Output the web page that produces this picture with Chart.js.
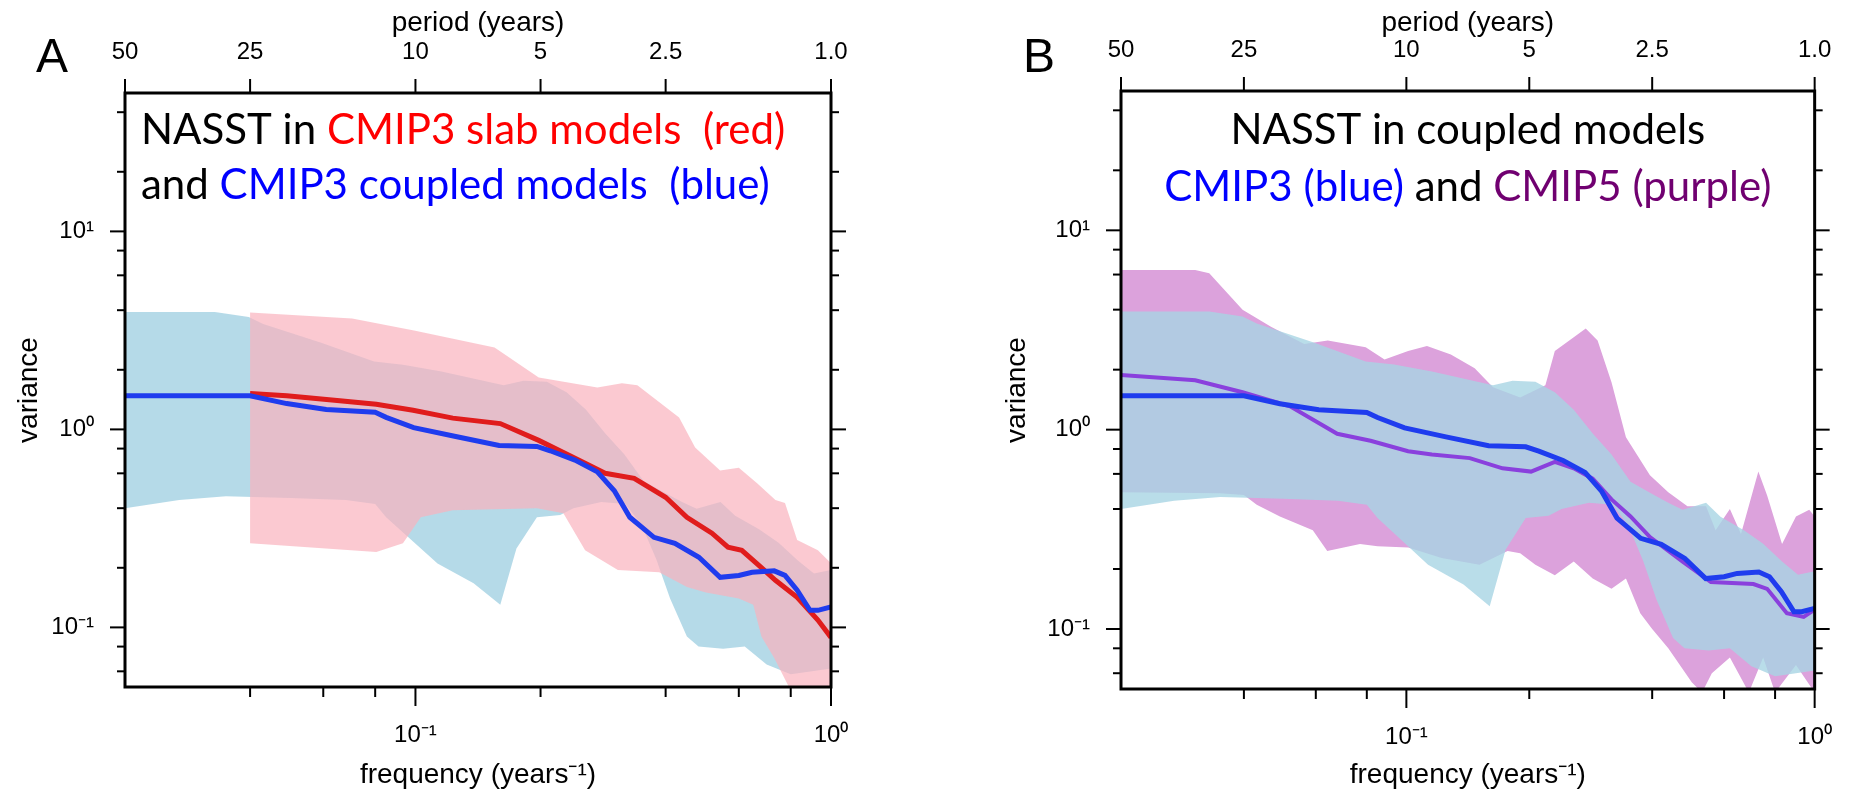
<!DOCTYPE html>
<html>
<head>
<meta charset="utf-8">
<script src="https://cdn.jsdelivr.net/npm/chart.js@4.4.1/dist/chart.umd.min.js"></script>
<style>
  html, body { margin: 0; padding: 0; background: #fff; }
  #wrap { position: relative; width: 1866px; height: 793px; overflow: hidden; background: #fff; }
  canvas { position: absolute; top: 0; }
  #panelA { left: 0; }
  #panelB { left: 933px; }
</style>
</head>
<body>
<div id="wrap">
  <canvas id="panelA" width="933" height="793"></canvas>
  <canvas id="panelB" width="933" height="793"></canvas>
</div>
<script>
// axes
const freqMin = 0.02, freqMax = 1.0;
const varMin = 0.05, varMax = 50;
const periodTickFreq = [0.02, 0.04, 0.1, 0.2, 0.4, 1.0];
const periodTickLabels = ["50", "25", "10", "5", "2.5", "1.0"];
const freqMajor = [0.1, 1.0];
const freqMajorLabels = ["10⁻¹", "10⁰"];
const freqMinor = [0.04, 0.06, 0.08, 0.2, 0.4, 0.6, 0.8];
const varMajor = [0.1, 1, 10];
const varMajorLabels = ["10⁻¹", "10⁰", "10¹"];
const varMinor = [0.06, 0.08, 0.2, 0.4, 0.6, 0.8, 2, 4, 6, 8, 20, 40];

// CMIP3 coupled models (blue) - mean and range
const coupledMeanFreq = [0.02, 0.04, 0.049, 0.061, 0.08, 0.085, 0.099, 0.125, 0.159, 0.196, 0.211, 0.242, 0.274, 0.301, 0.328, 0.375, 0.421, 0.481, 0.541, 0.60, 0.646, 0.73, 0.775, 0.829, 0.89, 0.93, 1.0];
const coupledMeanVar = [1.48, 1.48, 1.35, 1.26, 1.22, 1.15, 1.02, 0.92, 0.83, 0.82, 0.78, 0.70, 0.61, 0.49, 0.36, 0.285, 0.266, 0.226, 0.179, 0.183, 0.19, 0.193, 0.183, 0.154, 0.122, 0.122, 0.127];
const coupledUpperFreq = [0.02, 0.0329, 0.0397, 0.043, 0.0593, 0.0795, 0.0933, 0.1155, 0.163, 0.182, 0.207, 0.231, 0.257, 0.286, 0.318, 0.354, 0.395, 0.438, 0.475, 0.542, 0.588, 0.671, 0.748, 0.832, 0.91, 1.0];
const coupledUpperVar = [3.92, 3.92, 3.70, 3.41, 2.74, 2.20, 2.12, 1.96, 1.67, 1.76, 1.74, 1.54, 1.26, 0.956, 0.75, 0.548, 0.483, 0.43, 0.397, 0.43, 0.366, 0.313, 0.268, 0.218, 0.187, 0.195];
const coupledLowerFreq = [0.02, 0.027, 0.035, 0.05, 0.068, 0.08, 0.085, 0.099, 0.113, 0.138, 0.16, 0.175, 0.196, 0.223, 0.24, 0.28, 0.32, 0.35, 0.38, 0.41, 0.45, 0.48, 0.55, 0.62, 0.7, 0.8, 0.9, 1.0];
const coupledLowerVar = [0.40, 0.44, 0.46, 0.45, 0.44, 0.42, 0.36, 0.27, 0.21, 0.167, 0.13, 0.25, 0.36, 0.37, 0.40, 0.43, 0.42, 0.33, 0.22, 0.14, 0.09, 0.08, 0.078, 0.08, 0.065, 0.058, 0.06, 0.062];

// CMIP3 slab models (red) - mean and range
const slabMeanFreq = [0.04, 0.049, 0.0648, 0.0805, 0.0987, 0.123, 0.160, 0.198, 0.256, 0.286, 0.336, 0.40, 0.45, 0.517, 0.565, 0.61, 0.679, 0.735, 0.829, 0.93, 1.0];
const slabMeanVar = [1.52, 1.48, 1.40, 1.34, 1.25, 1.14, 1.07, 0.88, 0.674, 0.60, 0.566, 0.454, 0.36, 0.299, 0.254, 0.245, 0.201, 0.173, 0.142, 0.109, 0.089];
const slabUpperFreq = [0.04, 0.0704, 0.0992, 0.155, 0.198, 0.274, 0.314, 0.342, 0.431, 0.471, 0.541, 0.60, 0.664, 0.735, 0.775, 0.829, 0.93, 1.0];
const slabUpperVar = [3.89, 3.63, 3.16, 2.59, 1.83, 1.63, 1.71, 1.67, 1.15, 0.81, 0.62, 0.64, 0.534, 0.44, 0.425, 0.276, 0.245, 0.211];
const slabLowerFreq = [0.04, 0.0805, 0.0933, 0.103, 0.123, 0.196, 0.227, 0.256, 0.307, 0.386, 0.45, 0.5, 0.6, 0.65, 0.68, 0.73, 0.8, 1.0];
const slabLowerVar = [0.266, 0.24, 0.266, 0.36, 0.39, 0.40, 0.377, 0.245, 0.195, 0.19, 0.16, 0.15, 0.14, 0.13, 0.09, 0.07, 0.048, 0.048];

// CMIP5 coupled models (purple) - mean and range
const cmip5MeanFreq = [0.02, 0.0304, 0.0397, 0.0519, 0.0677, 0.0817, 0.101, 0.1155, 0.143, 0.172, 0.202, 0.231, 0.257, 0.286, 0.318, 0.354, 0.395, 0.475, 0.557, 0.708, 0.765, 0.855, 0.94, 1.0];
const cmip5MeanVar = [1.88, 1.77, 1.54, 1.31, 0.953, 0.88, 0.78, 0.75, 0.72, 0.64, 0.616, 0.69, 0.64, 0.568, 0.447, 0.367, 0.289, 0.218, 0.172, 0.168, 0.159, 0.12, 0.115, 0.125];
const cmip5UpperFreq = [0.02, 0.0304, 0.0329, 0.0397, 0.0466, 0.0562, 0.0642, 0.0795, 0.0884, 0.101, 0.1123, 0.1285, 0.147, 0.163, 0.19, 0.219, 0.231, 0.257, 0.275, 0.294, 0.318, 0.345, 0.395, 0.438, 0.488, 0.542, 0.572, 0.62, 0.66, 0.728, 0.765, 0.832, 0.90, 0.97, 1.0];
const cmip5UpperVar = [6.33, 6.33, 6.09, 4.0, 3.28, 2.69, 2.80, 2.59, 2.25, 2.48, 2.63, 2.38, 2.03, 1.63, 1.45, 1.67, 2.48, 2.91, 3.22, 2.80, 1.73, 0.917, 0.59, 0.485, 0.413, 0.413, 0.313, 0.40, 0.30, 0.616, 0.467, 0.267, 0.367, 0.397, 0.367];
const cmip5LowerFreq = [0.02, 0.035, 0.040, 0.043, 0.049, 0.059, 0.064, 0.077, 0.085, 0.101, 0.122, 0.151, 0.177, 0.19, 0.207, 0.231, 0.257, 0.286, 0.318, 0.345, 0.374, 0.40, 0.438, 0.50, 0.53, 0.56, 0.62, 0.69, 0.748, 0.80, 0.90, 1.0];
const cmip5LowerVar = [0.485, 0.48, 0.47, 0.42, 0.367, 0.313, 0.246, 0.267, 0.26, 0.256, 0.227, 0.21, 0.246, 0.24, 0.21, 0.186, 0.218, 0.179, 0.159, 0.179, 0.12, 0.10, 0.08, 0.054, 0.048, 0.06, 0.072, 0.048, 0.072, 0.048, 0.066, 0.048];

const AXIS_FONT = '"Liberation Sans", Arial, sans-serif';
const NOTE_FONT = '42px Lato, "Open Sans", sans-serif';

function points(freq, vals) {
    return freq.map((f, i) => ({ x: f, y: vals[i] }));
}

// upper edge left to right, then lower edge back, closed as one shape
function bandShape(upF, upV, loF, loV) {
    return points(upF, upV).concat(points(loF, loV).reverse());
}

function lineSet(data, color, width, order) {
    return { data, borderColor: color, borderWidth: width, fill: false, order, pointRadius: 0, tension: 0 };
}

function bandSet(data, color, order) {
    return { data, borderColor: "transparent", borderWidth: 0, backgroundColor: color, fill: "shape", order, pointRadius: 0, tension: 0 };
}

// frame and tick marks
const axisMarks = {
    id: "axisMarks",
    afterDraw(chart) {
        const { ctx, chartArea: a, scales } = chart;
        ctx.save();
        ctx.strokeStyle = "#000";
        ctx.lineWidth = 2;
        const seg = (x1, y1, x2, y2) => {
            ctx.beginPath();
            ctx.moveTo(x1, y1);
            ctx.lineTo(x2, y2);
            ctx.stroke();
        };
        freqMajor.forEach(v => {
            const x = scales.x.getPixelForValue(v);
            seg(x, a.bottom, x, a.bottom + 19);
        });
        freqMinor.forEach(v => {
            const x = scales.x.getPixelForValue(v);
            seg(x, a.bottom, x, a.bottom + 10);
        });
        periodTickFreq.forEach(v => {
            const x = scales.x2.getPixelForValue(v);
            seg(x, a.top, x, a.top - 14);
        });
        varMajor.forEach(v => {
            const y = scales.y.getPixelForValue(v);
            seg(a.left - 15, y, a.left, y);
            seg(a.right, y, a.right + 15, y);
        });
        varMinor.forEach(v => {
            const y = scales.y.getPixelForValue(v);
            seg(a.left - 8, y, a.left, y);
            seg(a.right, y, a.right + 8, y);
        });
        ctx.lineWidth = 3;
        ctx.strokeRect(a.left, a.top, a.right - a.left, a.bottom - a.top);
        ctx.restore();
    }
};

// panel letter and coloured annotation inside the plot
const notes = {
    id: "notes",
    afterDraw(chart, args, opts) {
        const ctx = chart.ctx;
        const a = chart.chartArea;
        ctx.save();
        ctx.textBaseline = "alphabetic";
        ctx.textAlign = "left";
        ctx.font = "48px " + AXIS_FONT;
        ctx.fillStyle = "#000";
        ctx.fillText(opts.letter, opts.letterX, 72);
        ctx.font = NOTE_FONT;
        opts.lines.forEach(line => {
            const total = line.parts.reduce((w, p) => w + ctx.measureText(p[0]).width, 0);
            let x = line.align === "center" ? (a.left + a.right) / 2 - total / 2 : line.x;
            line.parts.forEach(([text, color]) => {
                ctx.fillStyle = color;
                ctx.fillText(text, x, line.y);
                x += ctx.measureText(text).width;
            });
        });
        ctx.restore();
    }
};

function makePanel(id, g, datasets, noteOpts) {
    const canvas = document.getElementById(id);
    const W = canvas.width, H = canvas.height;
    const tickFont = { family: AXIS_FONT, size: 24 };
    const titleFont = { family: AXIS_FONT, size: 28 };
    const hidden = { display: false, drawTicks: false };

    return new Chart(canvas, {
        type: "line",
        data: { datasets },
        options: {
            responsive: false,
            animation: false,
            devicePixelRatio: 1,
            layout: { padding: 0 },
            plugins: {
                legend: { display: false },
                tooltip: { enabled: false },
                notes: noteOpts
            },
            scales: {
                x: {
                    type: "logarithmic",
                    position: "bottom",
                    min: freqMin,
                    max: freqMax,
                    afterBuildTicks: s => { s.ticks = freqMajor.map(v => ({ value: v })); },
                    afterFit: s => { s.height = H - g.bottom; },
                    grid: hidden,
                    border: { display: false },
                    ticks: { autoSkip: false, maxRotation: 0, padding: 34, color: "#000", font: tickFont,
                        callback: (v, i) => freqMajorLabels[i] },
                    title: { display: true, text: "frequency (years⁻¹)", color: "#000", font: titleFont,
                        padding: { top: 0, bottom: 1 } }
                },
                x2: {
                    type: "logarithmic",
                    position: "top",
                    min: freqMin,
                    max: freqMax,
                    afterBuildTicks: s => { s.ticks = periodTickFreq.map(v => ({ value: v })); },
                    afterFit: s => { s.height = g.top; },
                    grid: hidden,
                    border: { display: false },
                    ticks: { autoSkip: false, maxRotation: 0, padding: 26, color: "#000", font: tickFont,
                        callback: (v, i) => periodTickLabels[i] },
                    title: { display: true, text: "period (years)", color: "#000", font: titleFont,
                        padding: { top: 6, bottom: 0 } }
                },
                y: {
                    type: "logarithmic",
                    position: "left",
                    min: varMin,
                    max: varMax,
                    afterBuildTicks: s => { s.ticks = varMajor.map(v => ({ value: v })); },
                    afterFit: s => { s.width = g.left; },
                    grid: hidden,
                    border: { display: false },
                    ticks: { autoSkip: false, padding: 31, color: "#000", font: tickFont,
                        callback: (v, i) => varMajorLabels[i] },
                    title: { display: true, text: "variance", color: "#000", font: titleFont,
                        padding: { top: g.yTitlePad, bottom: 0 } }
                },
                y2: {
                    type: "logarithmic",
                    position: "right",
                    min: varMin,
                    max: varMax,
                    afterFit: s => { s.width = W - g.right; },
                    grid: hidden,
                    border: { display: false },
                    ticks: { display: false }
                }
            }
        },
        plugins: [axisMarks, notes]
    });
}

const coupledMean = points(coupledMeanFreq, coupledMeanVar);
const coupledBand = bandShape(coupledUpperFreq, coupledUpperVar, coupledLowerFreq, coupledLowerVar);

makePanel("panelA",
    { left: 125, right: 831, top: 93, bottom: 687, yTitlePad: 12 },
    [
        lineSet(coupledMean, "#1f3cee", 5, 0),
        lineSet(points(slabMeanFreq, slabMeanVar), "#e01c1c", 5, 1),
        bandSet(bandShape(slabUpperFreq, slabUpperVar, slabLowerFreq, slabLowerVar), "rgba(250,178,190,0.7)", 2),
        bandSet(coupledBand, "rgba(168,212,228,0.85)", 3)
    ],
    {
        letter: "A", letterX: 36,
        lines: [
            { x: 141, y: 144, parts: [["NASST in ", "#000"], ["CMIP3 slab models  (red)", "#ff0000"]] },
            { x: 141, y: 199, parts: [["and ", "#000"], ["CMIP3 coupled models  (blue)", "#0000ff"]] }
        ]
    });

makePanel("panelB",
    { left: 188, right: 904, top: 91, bottom: 689, yTitlePad: 67 },
    [
        lineSet(coupledMean, "#1f3cee", 5, 0),
        lineSet(points(cmip5MeanFreq, cmip5MeanVar), "#8a40dd", 4, 1),
        bandSet(coupledBand, "rgba(168,212,228,0.8)", 2),
        bandSet(bandShape(cmip5UpperFreq, cmip5UpperVar, cmip5LowerFreq, cmip5LowerVar), "rgb(220,162,220)", 3)
    ],
    {
        letter: "B", letterX: 90,
        lines: [
            { align: "center", y: 144, parts: [["NASST in coupled models", "#000"]] },
            { align: "center", y: 201, parts: [["CMIP3 (blue)", "#0000ff"], [" and ", "#000"], ["CMIP5 (purple)", "#700070"]] }
        ]
    });
</script>
</body>
</html>
